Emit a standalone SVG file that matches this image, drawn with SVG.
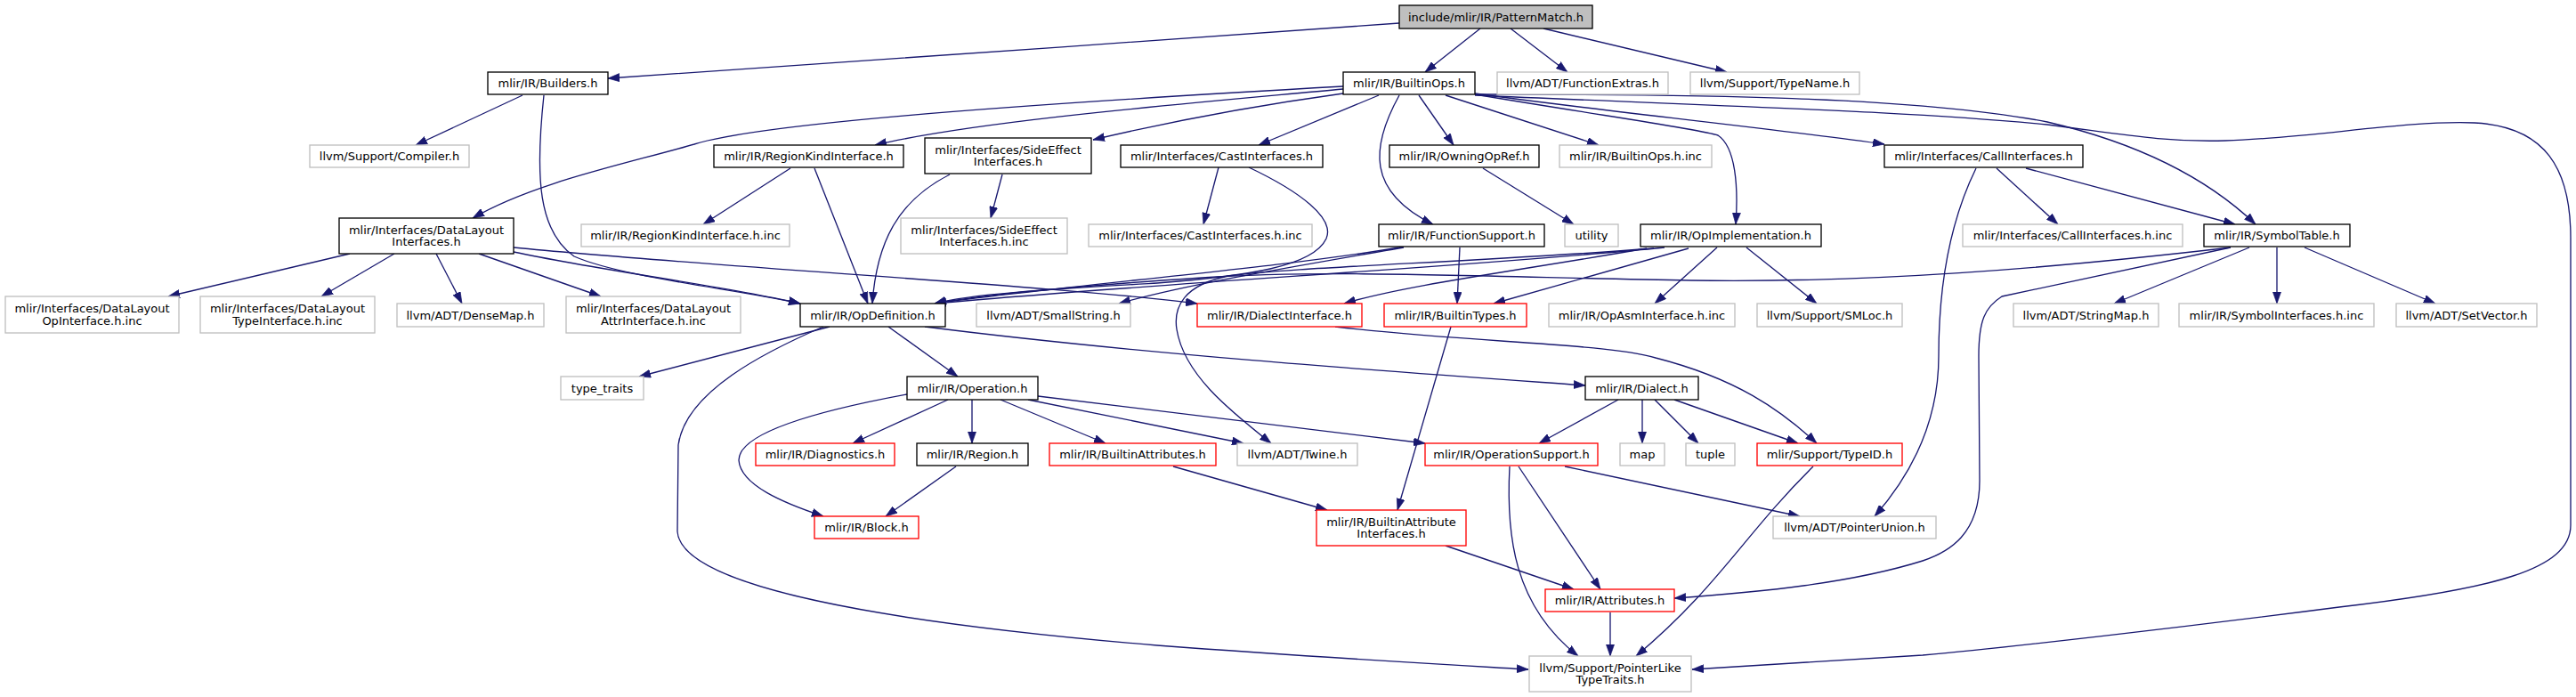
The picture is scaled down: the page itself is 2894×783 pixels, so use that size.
<svg xmlns="http://www.w3.org/2000/svg" width="2894" height="783" viewBox="0 0 2894 783">
<style>
rect{fill:#fff;stroke-width:1.33}
.doc{stroke:#000}
.ext{stroke:#bfbfbf}
.tr{stroke:#ff0000}
.root{fill:#bfbfbf;stroke:#000}
text{font-family:"DejaVu Sans","Liberation Sans",sans-serif;font-size:13px;fill:#000;text-anchor:middle}
.e path{fill:none;stroke:#191970;stroke-width:1.33;marker-end:url(#a)}
</style>
<defs>
<marker id="a" viewBox="0 0 10 7" refX="10" refY="3.5" markerWidth="13" markerHeight="9.5" markerUnits="userSpaceOnUse" orient="auto"><path d="M0,0 L10,3.5 L0,7 z" fill="#191970" stroke="#191970" stroke-width="0.5"/></marker>
</defs>
<rect width="2894" height="783" style="fill:#fff;stroke:none"/>
<g class="e" id="connectors">
<path d="M1572,26 C1300,45 900,74 683,88"/>
<path d="M1663,32 L1601,81"/>
<path d="M1697,32 L1761,81"/>
<path d="M1734,32 L1940,81"/>
<path d="M587,107 L467,163"/>
<path d="M611,107 C601,200 605,260 645,288 C700,312 830,325 899,341"/>
<path d="M1509,97 C1100,120 850,140 780,162 C700,185 600,205 531,245"/>
<path d="M1509,100 C1350,115 1100,135 983,163"/>
<path d="M1509,105 C1400,120 1300,140 1228,157"/>
<path d="M1549,107 L1414,163"/>
<path d="M1594,107 L1633,163"/>
<path d="M1624,107 L1796,163"/>
<path d="M1572,107 C1540,165 1535,215 1610,252"/>
<path d="M1657,106 C1800,130 1910,145 1930,152 C1950,165 1953,210 1950,252"/>
<path d="M1657,105 C1800,125 2000,145 2117,162"/>
<path d="M1657,106 C1900,106 2150,108 2300,137 C2420,165 2490,210 2534,252"/>
<path d="M1657,107 C1950,120 2150,125 2300,140 C2380,150 2430,160 2500,158 C2600,155 2700,135 2780,138 C2860,142 2888,190 2888,267 L2888,590 C2888,640 2800,662 2628,682 C2450,705 2250,728 2160,736 L1901,752"/>
<path d="M393,285 L189,333"/>
<path d="M443,285 L361,333"/>
<path d="M490,285 L519,341"/>
<path d="M538,285 L675,333"/>
<path d="M577,283 C680,305 820,322 899,341"/>
<path d="M577,278 C800,300 1200,322 1345,341"/>
<path d="M888,189 L790,252"/>
<path d="M915,189 L975,341"/>
<path d="M1126,196 L1113,245"/>
<path d="M1067,196 C1010,225 985,270 980,341"/>
<path d="M1369,188 L1352,252"/>
<path d="M1403,188 C1460,215 1500,245 1490,268 C1475,300 1400,310 1300,318 C1180,325 1090,330 1050,341"/>
<path d="M1666,189 L1768,252"/>
<path d="M1577,277 C1450,300 1200,320 1050,341"/>
<path d="M1577,278 C1450,300 1330,320 1257,341"/>
<path d="M1640,278 L1637,341"/>
<path d="M1870,278 C1650,300 1300,318 1050,341"/>
<path d="M1850,279 C1700,305 1580,320 1510,341"/>
<path d="M1897,279 L1678,341"/>
<path d="M1929,278 L1859,341"/>
<path d="M1962,278 L2041,341"/>
<path d="M1858,279 C1650,295 1450,300 1380,310 C1330,320 1318,345 1322,370 C1330,420 1380,460 1428,498"/>
<path d="M2243,189 L2312,252"/>
<path d="M2276,189 L2511,252"/>
<path d="M2220,189 C2190,250 2178,320 2178,400 C2178,470 2150,530 2106,580"/>
<path d="M2506,278 C2300,302 2100,318 1900,315 C1700,312 1500,302 1350,312 C1200,322 1100,332 1050,341"/>
<path d="M2506,278 L2249,333 C2230,345 2223,360 2223,400 L2224,540 C2224,600 2190,620 2160,630 C2080,655 1980,665 1881,672"/>
<path d="M2527,278 L2375,341"/>
<path d="M2558,278 L2558,341"/>
<path d="M2589,278 L2736,341"/>
<path d="M932,367 L718,423"/>
<path d="M998,367 L1076,423"/>
<path d="M1039,367 C1300,400 1600,420 1781,433"/>
<path d="M925,367 C860,395 770,440 762,500 L761,597 C765,660 1000,700 1300,725 C1500,740 1650,748 1717,752"/>
<path d="M1019,443 C900,465 830,490 830,517 C832,545 880,565 925,580"/>
<path d="M1065,449 L958,498"/>
<path d="M1092,449 L1092,498"/>
<path d="M1124,449 L1242,498"/>
<path d="M1155,449 L1397,498"/>
<path d="M1166,445 L1601,498"/>
<path d="M1074,524 L995,580"/>
<path d="M1318,524 L1491,573"/>
<path d="M1630,367 L1570,573"/>
<path d="M1500,367 C1650,385 1800,385 1860,402 C1950,425 2000,460 2041,498"/>
<path d="M1818,449 L1729,498"/>
<path d="M1845,449 L1845,498"/>
<path d="M1859,449 L1908,498"/>
<path d="M1881,449 L2020,498"/>
<path d="M1696,524 C1692,600 1700,680 1773,737"/>
<path d="M1706,524 L1798,662"/>
<path d="M1758,524 L2022,580"/>
<path d="M2037,524 C1960,600 1930,660 1838,737"/>
<path d="M1624,613 L1768,662"/>
<path d="M1809,688 L1809,737"/>
</g>
<g id="n1"><rect class="root" x="1572" y="6" width="217" height="26"/><text x="1680.5" y="23.5">include/mlir/IR/PatternMatch.h</text></g>
<g id="n2"><rect class="doc" x="548" y="81" width="135" height="25"/><text x="615.5" y="98">mlir/IR/Builders.h</text></g>
<g id="n3"><rect class="ext" x="348" y="163" width="179" height="25"/><text x="437.5" y="180">llvm/Support/Compiler.h</text></g>
<g id="n4"><rect class="doc" x="1509" y="81" width="148" height="25"/><text x="1583" y="98">mlir/IR/BuiltinOps.h</text></g>
<g id="n5"><rect class="ext" x="1682" y="81" width="192" height="25"/><text x="1778" y="98">llvm/ADT/FunctionExtras.h</text></g>
<g id="n6"><rect class="ext" x="1899" y="81" width="190" height="25"/><text x="1994" y="98">llvm/Support/TypeName.h</text></g>
<g id="n7"><rect class="doc" x="381" y="245" width="196" height="40"/><text x="479" y="262.5">mlir/Interfaces/DataLayout</text><text x="479" y="276">Interfaces.h</text></g>
<g id="n8"><rect class="doc" x="802" y="163" width="213" height="25"/><text x="908.5" y="180">mlir/IR/RegionKindInterface.h</text></g>
<g id="n9"><rect class="doc" x="1039" y="155" width="187" height="40"/><text x="1132.5" y="172.5">mlir/Interfaces/SideEffect</text><text x="1132.5" y="186">Interfaces.h</text></g>
<g id="n10"><rect class="doc" x="1259" y="163" width="227" height="25"/><text x="1372.5" y="180">mlir/Interfaces/CastInterfaces.h</text></g>
<g id="n11"><rect class="doc" x="1561" y="163" width="168" height="25"/><text x="1645" y="180">mlir/IR/OwningOpRef.h</text></g>
<g id="n12"><rect class="ext" x="1752" y="163" width="171" height="25"/><text x="1837.5" y="180">mlir/IR/BuiltinOps.h.inc</text></g>
<g id="n13"><rect class="doc" x="2117" y="163" width="223" height="25"/><text x="2228.5" y="180">mlir/Interfaces/CallInterfaces.h</text></g>
<g id="n14"><rect class="ext" x="653" y="252" width="234" height="25"/><text x="770" y="269">mlir/IR/RegionKindInterface.h.inc</text></g>
<g id="n15"><rect class="ext" x="1012" y="245" width="187" height="40"/><text x="1105.5" y="262.5">mlir/Interfaces/SideEffect</text><text x="1105.5" y="276">Interfaces.h.inc</text></g>
<g id="n16"><rect class="ext" x="1223" y="252" width="251" height="25"/><text x="1348.5" y="269">mlir/Interfaces/CastInterfaces.h.inc</text></g>
<g id="n17"><rect class="doc" x="1549" y="252" width="186" height="25"/><text x="1642" y="269">mlir/IR/FunctionSupport.h</text></g>
<g id="n18"><rect class="ext" x="1758" y="252" width="60" height="25"/><text x="1788" y="269">utility</text></g>
<g id="n19"><rect class="doc" x="1843" y="252" width="203" height="25"/><text x="1944.5" y="269">mlir/IR/OpImplementation.h</text></g>
<g id="n20"><rect class="ext" x="2205" y="252" width="247" height="25"/><text x="2328.5" y="269">mlir/Interfaces/CallInterfaces.h.inc</text></g>
<g id="n21"><rect class="doc" x="2476" y="252" width="164" height="25"/><text x="2558" y="269">mlir/IR/SymbolTable.h</text></g>
<g id="n22"><rect class="ext" x="6" y="333" width="195" height="41"/><text x="103.5" y="350.5">mlir/Interfaces/DataLayout</text><text x="103.5" y="364.5">OpInterface.h.inc</text></g>
<g id="n23"><rect class="ext" x="225" y="333" width="196" height="41"/><text x="323" y="350.5">mlir/Interfaces/DataLayout</text><text x="323" y="364.5">TypeInterface.h.inc</text></g>
<g id="n24"><rect class="ext" x="446" y="341" width="165" height="26"/><text x="528.5" y="358.5">llvm/ADT/DenseMap.h</text></g>
<g id="n25"><rect class="ext" x="636" y="333" width="196" height="41"/><text x="734" y="350.5">mlir/Interfaces/DataLayout</text><text x="734" y="364.5">AttrInterface.h.inc</text></g>
<g id="n26"><rect class="doc" x="899" y="341" width="163" height="26"/><text x="980.5" y="358.5">mlir/IR/OpDefinition.h</text></g>
<g id="n27"><rect class="ext" x="1097" y="341" width="173" height="26"/><text x="1183.5" y="358.5">llvm/ADT/SmallString.h</text></g>
<g id="n28"><rect class="tr" x="1345" y="341" width="185" height="26"/><text x="1437.5" y="358.5">mlir/IR/DialectInterface.h</text></g>
<g id="n29"><rect class="tr" x="1555" y="341" width="160" height="26"/><text x="1635" y="358.5">mlir/IR/BuiltinTypes.h</text></g>
<g id="n30"><rect class="ext" x="1740" y="341" width="209" height="26"/><text x="1844.5" y="358.5">mlir/IR/OpAsmInterface.h.inc</text></g>
<g id="n31"><rect class="ext" x="1974" y="341" width="163" height="26"/><text x="2055.5" y="358.5">llvm/Support/SMLoc.h</text></g>
<g id="n32"><rect class="ext" x="2262" y="341" width="163" height="26"/><text x="2343.5" y="358.5">llvm/ADT/StringMap.h</text></g>
<g id="n33"><rect class="ext" x="2448" y="341" width="219" height="26"/><text x="2557.5" y="358.5">mlir/IR/SymbolInterfaces.h.inc</text></g>
<g id="n34"><rect class="ext" x="2692" y="341" width="158" height="26"/><text x="2771" y="358.5">llvm/ADT/SetVector.h</text></g>
<g id="n35"><rect class="ext" x="630" y="423" width="93" height="26"/><text x="676.5" y="440.5">type_traits</text></g>
<g id="n36"><rect class="doc" x="1019" y="423" width="147" height="26"/><text x="1092.5" y="440.5">mlir/IR/Operation.h</text></g>
<g id="n37"><rect class="doc" x="1781" y="423" width="127" height="26"/><text x="1844.5" y="440.5">mlir/IR/Dialect.h</text></g>
<g id="n38"><rect class="tr" x="849" y="498" width="156" height="25"/><text x="927" y="515">mlir/IR/Diagnostics.h</text></g>
<g id="n39"><rect class="doc" x="1030" y="498" width="125" height="25"/><text x="1092.5" y="515">mlir/IR/Region.h</text></g>
<g id="n40"><rect class="tr" x="1179" y="498" width="187" height="25"/><text x="1272.5" y="515">mlir/IR/BuiltinAttributes.h</text></g>
<g id="n41"><rect class="ext" x="1390" y="498" width="135" height="25"/><text x="1457.5" y="515">llvm/ADT/Twine.h</text></g>
<g id="n42"><rect class="tr" x="1601" y="498" width="194" height="25"/><text x="1698" y="515">mlir/IR/OperationSupport.h</text></g>
<g id="n43"><rect class="ext" x="1820" y="498" width="50" height="25"/><text x="1845" y="515">map</text></g>
<g id="n44"><rect class="ext" x="1894" y="498" width="55" height="25"/><text x="1921.5" y="515">tuple</text></g>
<g id="n45"><rect class="tr" x="1974" y="498" width="163" height="25"/><text x="2055.5" y="515">mlir/Support/TypeID.h</text></g>
<g id="n46"><rect class="tr" x="915" y="580" width="117" height="25"/><text x="973.5" y="597">mlir/IR/Block.h</text></g>
<g id="n47"><rect class="tr" x="1479" y="573" width="168" height="40"/><text x="1563" y="590.5">mlir/IR/BuiltinAttribute</text><text x="1563" y="604">Interfaces.h</text></g>
<g id="n48"><rect class="ext" x="1992" y="580" width="183" height="25"/><text x="2083.5" y="597">llvm/ADT/PointerUnion.h</text></g>
<g id="n49"><rect class="tr" x="1736" y="662" width="145" height="25"/><text x="1808.5" y="679">mlir/IR/Attributes.h</text></g>
<g id="n50"><rect class="ext" x="1718" y="737" width="182" height="40"/><text x="1809" y="754.5">llvm/Support/PointerLike</text><text x="1809" y="768">TypeTraits.h</text></g>
</svg>
